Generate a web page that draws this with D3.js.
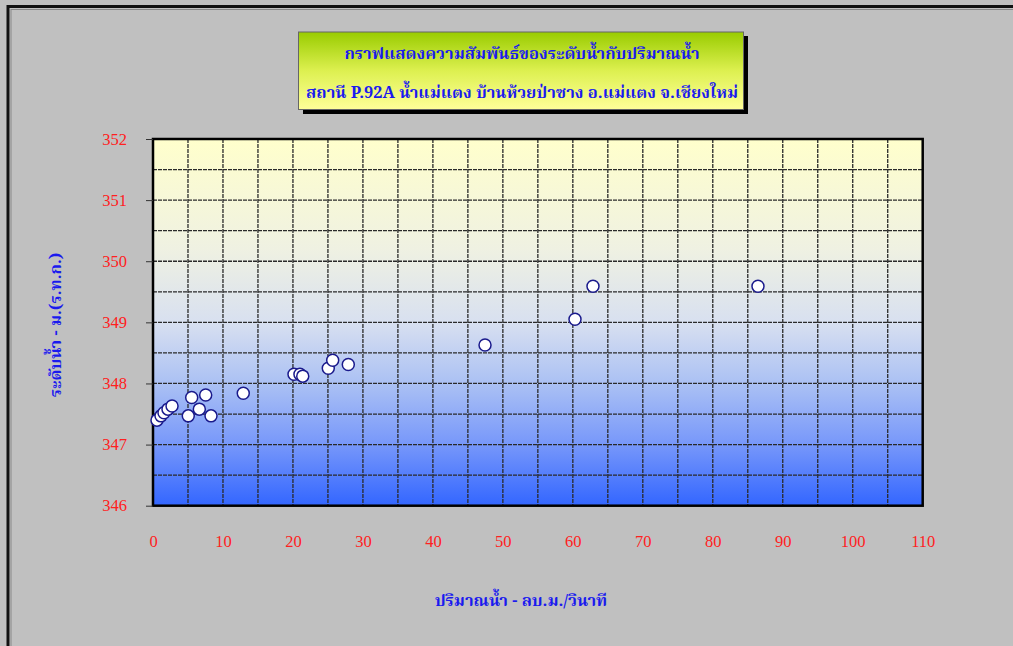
<!DOCTYPE html>
<html><head><meta charset="utf-8">
<script src="https://cdn.jsdelivr.net/npm/d3@7"></script>
<style>html,body{margin:0;padding:0;background:#c0c0c0;overflow:hidden}</style>
</head><body>
<svg id="c" width="1013" height="646"></svg>
<script>
// Data
const discharge = [0.57, 1.14, 1.57, 2.14, 2.72, 5.04, 5.53, 6.62, 7.53, 8.29, 12.9, 20.15, 21.0, 21.4, 25.05, 25.68, 27.91, 47.45, 60.31, 62.88, 86.46];
const stage     = [347.40, 347.47, 347.52, 347.58, 347.63, 347.47, 347.77, 347.58, 347.81, 347.47, 347.84, 348.15, 348.15, 348.12, 348.25, 348.38, 348.31, 348.63, 349.05, 349.59, 349.59];
const xTicks = [0,10,20,30,40,50,60,70,80,90,100,110];
const yTicks = [346,347,348,349,350,351,352];
const titleLines = ["กราฟแสดงความสัมพันธ์ของระดับน้ำกับปริมาณน้ำ", "สถานี P.92A น้ำแม่แตง บ้านห้วยป่าซาง อ.แม่แตง จ.เชียงใหม่"];
const xTitle = "ปริมาณน้ำ - ลบ.ม./วินาที";
const yTitle = "ระดับน้ำ - ม.(ร.ท.ก.)";

const svg = d3.select("#c");
const L = 153, R = 922.7, T = 139, B = 505.7;
const x = d3.scaleLinear().domain([0,110]).range([L,R]);
const y = d3.scaleLinear().domain([346,352]).range([B,T]);
const thaiFont = "'Noto Serif Thai', 'Liberation Serif', 'Noto Sans Thai', serif";

const defs = svg.append("defs");
const pg = defs.append("linearGradient").attr("id","pg").attr("x1",0).attr("y1",0).attr("x2",0).attr("y2",1);
[[0,"#ffffcc"],[0.3,"#eff1e2"],[0.5,"#d8e0f0"],[0.67,"#aac0f4"],[0.83,"#7898fa"],[1,"#3366ff"]]
  .forEach(s=>pg.append("stop").attr("offset",s[0]).attr("stop-color",s[1]));
const tg = defs.append("linearGradient").attr("id","tg").attr("x1",0).attr("y1",0).attr("x2",0).attr("y2",1);
[[0,"#99cc00"],[0.5,"#ddf050"],[1,"#ffff99"]].forEach(s=>tg.append("stop").attr("offset",s[0]).attr("stop-color",s[1]));

// outer frame
svg.append("rect").attr("x",8).attr("y",6.5).attr("width",1100).attr("height",1000)
  .attr("fill","#c0c0c0").attr("stroke","#111").attr("stroke-width",3);
svg.append("rect").attr("x",11).attr("y",9.5).attr("width",1100).attr("height",1000)
  .attr("fill","none").attr("stroke","#888").attr("stroke-width",1);

// plot background
svg.append("rect").attr("x",L).attr("y",T).attr("width",R-L).attr("height",B-T).attr("fill","url(#pg)");

// grid
const g = svg.append("g");
g.selectAll(".vg").data(d3.range(5,110,5)).join("line")
  .attr("x1",d=>x(d)).attr("x2",d=>x(d)).attr("y1",T).attr("y2",B)
  .attr("stroke","#2a2a2a").attr("stroke-width",1.3).attr("stroke-dasharray","4,1");
g.selectAll(".hg").data(d3.range(346.5,352,0.5)).join("line")
  .attr("x1",L).attr("x2",R).attr("y1",d=>y(d)).attr("y2",d=>y(d))
  .attr("stroke","#2a2a2a").attr("stroke-width",1.3).attr("stroke-dasharray","4,1");

// plot border
svg.append("rect").attr("x",L).attr("y",T).attr("width",R-L).attr("height",B-T)
  .attr("fill","none").attr("stroke","#000").attr("stroke-width",2.5);

// axes
const yAxis = d3.axisLeft(y).tickValues(yTicks).tickFormat(d3.format("d")).tickSize(7).tickPadding(19);
const ya = svg.append("g").attr("transform",`translate(${L},0)`).call(yAxis);
ya.select(".domain").remove();
ya.selectAll("line").attr("stroke","#333");
ya.selectAll("text").attr("fill","#ff2020").attr("font-family","'Liberation Serif', serif").attr("font-size",16.5);

const xAxis = d3.axisBottom(x).tickValues(xTicks).tickSize(0).tickPadding(30);
const xa = svg.append("g").attr("transform",`translate(0,${B})`).call(xAxis);
xa.select(".domain").remove();
xa.selectAll("text").attr("fill","#ff2020").attr("font-family","'Liberation Serif', serif").attr("font-size",16.5);

// points
svg.append("g").selectAll("circle").data(discharge.map((d,i)=>[d,stage[i]])).join("circle")
  .attr("cx",d=>x(d[0])).attr("cy",d=>y(d[1])).attr("r",6)
  .attr("fill","#fff").attr("stroke","#1a1a8c").attr("stroke-width",1.5);

// title box
svg.append("rect").attr("x",303).attr("y",36).attr("width",445).attr("height",78).attr("fill","#000");
svg.append("rect").attr("x",298.5).attr("y",32).attr("width",445).attr("height",77.5)
  .attr("fill","url(#tg)").attr("stroke","#666").attr("stroke-width",1);
svg.append("g").selectAll("text").data(titleLines).join("text")
  .attr("x",522).attr("y",(d,i)=>[59,98][i]).attr("text-anchor","middle")
  .attr("fill","#1a1aee").attr("font-family",thaiFont).attr("font-size",16.5).attr("font-weight","bold")
  .text(d=>d);

// axis titles
svg.append("text").attr("x",521).attr("y",606).attr("text-anchor","middle")
  .attr("fill","#1a1aee").attr("font-family",thaiFont).attr("font-size",16.5).attr("font-weight","bold").text(xTitle);
svg.append("text").attr("transform","translate(61,325) rotate(-90)").attr("text-anchor","middle")
  .attr("fill","#1a1aee").attr("font-family",thaiFont).attr("font-size",16.5).attr("font-weight","bold").text(yTitle);
</script>
</body></html>
